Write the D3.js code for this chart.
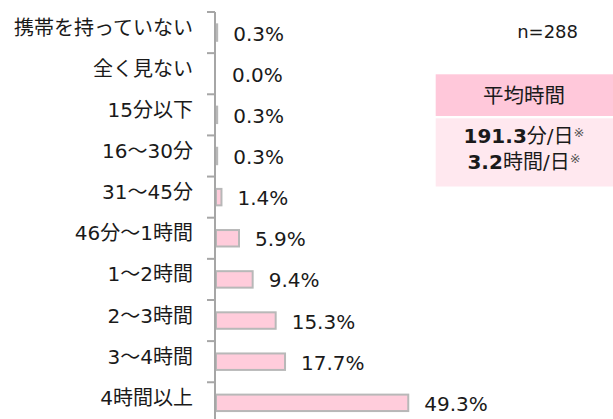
<!DOCTYPE html>
<html><head><meta charset="utf-8">
<script src="https://cdn.jsdelivr.net/npm/d3@7"></script>
<style>body{margin:0;background:#fff}svg{display:block}</style>
</head><body>
<svg id="c" width="613" height="419"></svg>
<script>
const categories = ["携帯を持っていない","全く見ない","15分以下","16〜30分","31〜45分","46分〜1時間","1〜2時間","2〜3時間","3〜4時間","4時間以上"];
const values = [0.3, 0.0, 0.3, 0.3, 1.4, 5.9, 9.4, 15.3, 17.7, 49.3];
const sampleLabel = "n=288";
const avgTitle = "平均時間";
const avgLines = [["191.3","分/日"],["3.2","時間/日"]];

const FONT = "'DejaVu Sans','Noto Sans CJK JP',sans-serif";
const svg = d3.select("#c");
const pi = 0.6;
const y = d3.scaleBand().domain(categories).range([12, 423.4]).paddingInner(pi).paddingOuter(pi/2);
const x = d3.scaleLinear().domain([0, 50]).range([216, 411]);
const step = y.step();

// bars
svg.append("g").selectAll("rect").data(values).join("rect")
  .attr("x", x(0))
  .attr("y", (d,i)=>y(categories[i]))
  .attr("width", d=>Math.max(0, x(d)-x(0)))
  .attr("height", y.bandwidth())
  .attr("fill", "#ffccdb")
  .attr("stroke", "#b8b8b8")
  .attr("stroke-width", 2);

// axis line + ticks at band boundaries
const ax = svg.append("g");
ax.append("line").attr("x1",215).attr("x2",215).attr("y1",12).attr("y2",423)
  .attr("stroke","#a6a6a6").attr("stroke-width",2);
categories.forEach((c,i)=>{
  const yy = y(c) - step*pi/2;
  ax.append("line").attr("x1",207).attr("x2",215).attr("y1",yy).attr("y2",yy)
    .attr("stroke","#a6a6a6").attr("stroke-width",2);
});

// category labels
svg.append("g").selectAll("text").data(categories).join("text")
  .attr("x", 193)
  .attr("y", d=>y(d)+y.bandwidth()/2 - 5)
  .attr("dy","0.35em")
  .attr("text-anchor","end")
  .attr("font-family", FONT)
  .attr("font-size", 20)
  .attr("fill","#1a1a1a")
  .text(d=>d);

// value labels
svg.append("g").selectAll("text").data(values).join("text")
  .attr("x", d=>x(d)+16)
  .attr("y", (d,i)=>y(categories[i])+y.bandwidth()/2 + 1)
  .attr("dy","0.35em")
  .attr("font-family", FONT)
  .attr("font-size", 20)
  .attr("fill","#1a1a1a")
  .text(d=>d.toFixed(1)+"%");

// n label
svg.append("text").attr("x",578).attr("y",32).attr("dy","0.35em")
  .attr("text-anchor","end").attr("font-family",FONT).attr("font-size",18)
  .attr("fill","#1a1a1a").text(sampleLabel);

// average box
svg.append("rect").attr("x",435.7).attr("y",74.3).attr("width",613-435.7).attr("height",116-74.3).attr("fill","#ffc8da");
svg.append("rect").attr("x",435.7).attr("y",118.3).attr("width",613-435.7).attr("height",186.5-118.3).attr("fill","#ffe8ef");
svg.append("text").attr("x",524).attr("y",96).attr("dy","0.35em").attr("text-anchor","middle")
  .attr("font-family",FONT).attr("font-size",20.5).attr("fill","#1a1a1a").text(avgTitle);
const lineY = [136, 162];
avgLines.forEach((l,i)=>{
  const t = svg.append("text").attr("x",524).attr("y",lineY[i]).attr("dy","0.35em").attr("text-anchor","middle")
    .attr("font-family",FONT).attr("font-size",20).attr("fill","#1a1a1a");
  t.append("tspan").attr("font-weight","bold").text(l[0]);
  t.append("tspan").text(l[1]);
  t.append("tspan").attr("font-size",13).attr("dy","-0.5em").attr("fill","#555").text("※");
});
</script>
</body></html>
